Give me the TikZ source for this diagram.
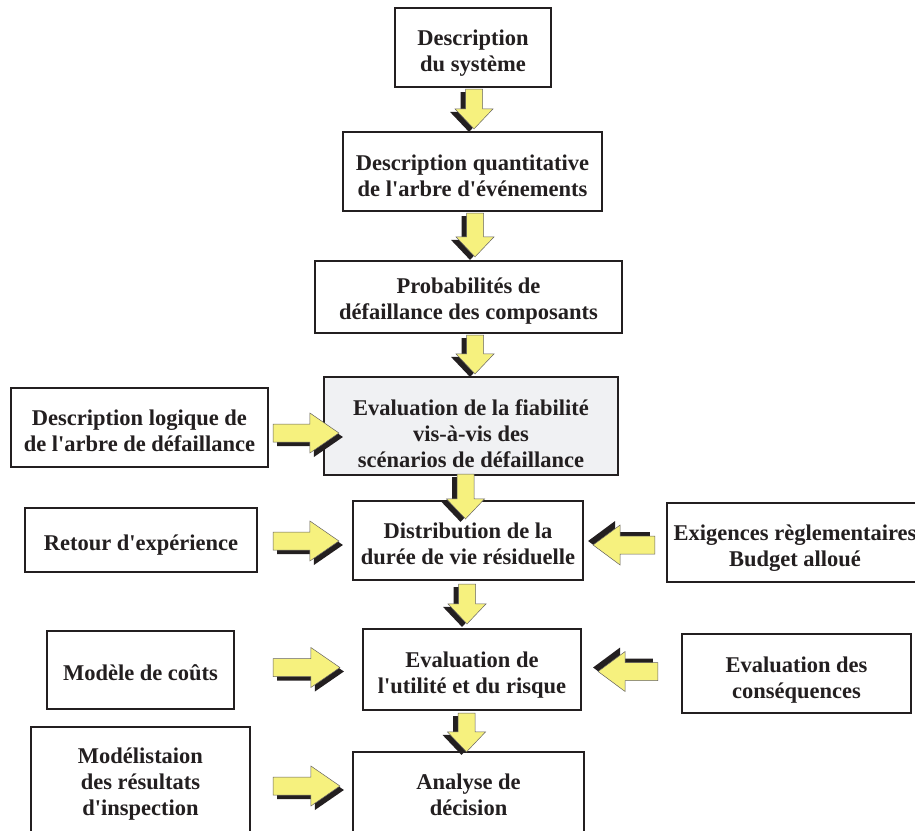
\documentclass[tikz,border=0pt]{standalone}
\usepackage{fontspec}
\setmainfont{Liberation Serif}[Ligatures=TeXOff]
\usetikzlibrary{calc}
\definecolor{ink}{RGB}{35,31,32}
\definecolor{ayel}{RGB}{246,241,126}
\definecolor{boxgray}{RGB}{240,241,243}
\tikzset{
  box/.style 2 args={draw=ink, line width=2.2pt, fill=white, inner sep=0pt,
    minimum width=#1pt, minimum height=#2pt},
  txt/.style={text=ink, align=center, inner sep=0pt,
    font=\fontsize{22.5}{26}\selectfont\bfseries},
  graybox/.style={fill=boxgray},
  yarrowfill/.style={fill=ayel, draw=ink!70, line width=0.5pt, line join=miter},
  yshadow/.style={fill=ink}
}
% #1 start, #2 tip, #3 shadow shift, #4 half shaft, #5 half head, #6 head length
\newcommand\yarrow[6]{%
  \coordinate (ya) at (#1);
  \coordinate (yb) at (#2);
  \coordinate (yh) at ($(yb)!#6!(ya)$);
  \coordinate (sa) at ($(ya)+#3$);
  \coordinate (sb) at ($(yb)+#3$);
  \coordinate (sh) at ($(yh)+#3$);
  \path[yshadow] ($(sa)!#4!90:(sb)$) -- ($(sh)!#4!90:(sb)$) -- ($(sh)!#5!90:(sb)$) -- (sb)
     -- ($(sh)!#5!-90:(sb)$) -- ($(sh)!#4!-90:(sb)$) -- ($(sa)!#4!-90:(sb)$) -- cycle;
  \path[yarrowfill] ($(ya)!#4!90:(yb)$) -- ($(yh)!#4!90:(yb)$) -- ($(yh)!#5!90:(yb)$) -- (yb)
     -- ($(yh)!#5!-90:(yb)$) -- ($(yh)!#4!-90:(yb)$) -- ($(ya)!#4!-90:(yb)$) -- cycle;
}
\newcommand\darrow[2]{\yarrow{#1}{#2}{(-5,3)}{8.5pt}{19pt}{20pt}}
\newcommand\rarrow[2]{\yarrow{#1}{#2}{(4,4)}{9pt}{20pt}{29pt}}
\newcommand\larrow[2]{\yarrow{#1}{#2}{(-5,-4)}{9pt}{20pt}{27pt}}
\begin{document}
\begin{tikzpicture}[x=1pt,y=-1pt]
\path[use as bounding box] (0,0) rectangle (915,830);
\clip (0,0) rectangle (915,830);

\node[box={156}{79}] (b1) at (473,47.5) {};
\node[box={259}{79}] (b2) at (472.5,171.5) {};
\node[box={307}{72}] (b3) at (468.5,297) {};
\node[box={294}{98}, graybox] (b4) at (471,426) {};
\node[box={257}{79}] (b5) at (139.5,427.5) {};
\node[box={230}{79}] (b6) at (468,540.5) {};
\node[box={232}{64}] (b7) at (141,540) {};
\node[box={256}{79}] (b8) at (795,542.5) {};
\node[box={187}{78}] (b9) at (140.5,670) {};
\node[box={218}{81}] (b10) at (472,669.5) {};
\node[box={229}{79}] (b11) at (796.5,673.5) {};
\node[box={219}{108}] (b12) at (140.5,781) {};
\node[box={231}{85}] (b13) at (468.5,794.5) {};

\node[txt] (t1) at ($(b1)+(0,5.5)$) {Description\\du système};
\node[txt] (t2) at ($(b2)+(0,4)$) {Description quantitative\\de l'arbre d'événements};
\node[txt] (t3) at ($(b3)+(0,4.5)$) {Probabilités de\\défaillance des composants};
\node[txt] (t4) at ($(b4)+(0,7.5)$) {Evaluation de la fiabilité\\vis-à-vis des\\scénarios de défaillance};
\node[txt] (t5) at ($(b5)+(0,3)$) {Description logique de\\de l'arbre de défaillance};
\node[txt] (t6) at ($(b6)+(0,3.5)$) {Distribution de la\\durée de vie résiduelle};
\node[txt] (t7) at ($(b7)+(0,5)$) {Retour d'expérience};
\node[txt] (t8) at ($(b8)+(0,5.5)$) {Exigences règlementaires\\Budget alloué};
\node[txt] (t9) at ($(b9)+(0,3)$) {Modèle de coûts};
\node[txt] (t10) at ($(b10)+(0,6)$) {Evaluation de\\l'utilité et du risque};
\node[txt] (t11) at ($(b11)+(0,7)$) {Evaluation des\\conséquences};
\node[txt] (t12) at ($(b12)+(0,3)$) {Modélistaion\\des résultats\\d'inspection};
\node[txt] (t13) at ($(b13)+(0,0.5)$) {Analyse de\\décision};

% vertical arrows
\darrow{$(b1.south)+(1,1)$}{$(b1.south |- b2.north)+(1,-2)$}
\darrow{$(b2.south)+(2.5,1)$}{$(b2.south |- b3.north)+(2.5,-3)$}
\darrow{$(b3.south)+(6.5,1)$}{$(b3.south |- b4.north)+(6.5,-2)$}
\darrow{$(b4.south)+(-5.5,-2)$}{$(b4.south |- b6.north)+(-5.5,19)$}
\darrow{$(b6.south)+(-1,3)$}{$(b6.south |- b10.north)+(-1,-4)$}
\darrow{$(b10.south)+(-5.5,2)$}{$(b10.south |- b13.north)+(-5.5,1)$}

% right arrows
\rarrow{$(b5.east)+(4,5.5)$}{$(b5.east -| b4.west)+(16,5.5)$}
\rarrow{$(b7.east)+(15,1)$}{$(b7.east -| b6.west)+(-13,1)$}
\rarrow{$(b9.east)+(38,-2.5)$}{$(b9.east -| b10.west)+(-22,-2.5)$}
\rarrow{$(b12.east)+(22,5)$}{$(b12.east -| b13.west)+(-12,5)$}

% left arrows
\larrow{$(b8.west)+(-11,2.5)$}{$(b8.west -| b6.east)+(9,2.5)$}
\larrow{$(b11.west)+(-23,-2)$}{$(b11.west -| b10.east)+(16,-2)$}
\end{tikzpicture}
\end{document}
